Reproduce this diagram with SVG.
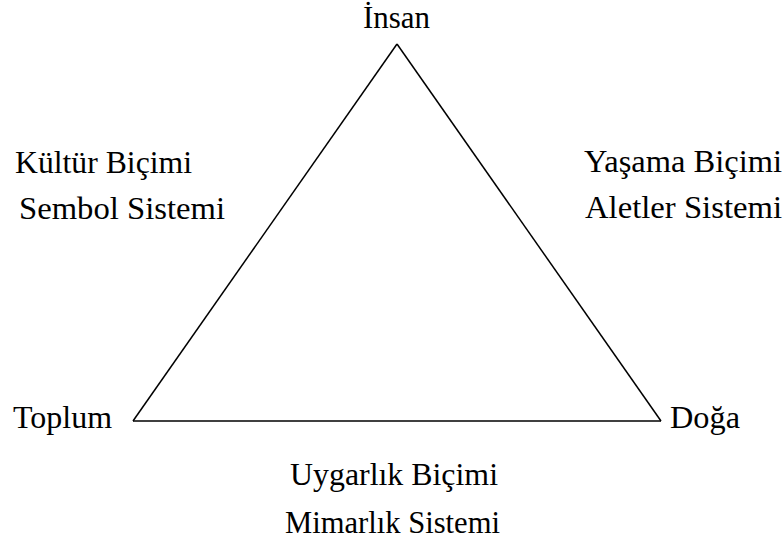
<svg xmlns="http://www.w3.org/2000/svg" width="784" height="554" viewBox="0 0 784 554">
<rect width="784" height="554" fill="#fff"/>
<g id="connectors">
<line x1="397" y1="44" x2="133" y2="421" stroke="#000" stroke-width="1.5"/>
<line x1="397" y1="44" x2="661" y2="421" stroke="#000" stroke-width="1.5"/>
<line x1="133" y1="421" x2="661" y2="421" stroke="#000" stroke-width="1.5"/>
</g>
<g id="insan"><text x="363" y="28" textLength="67" lengthAdjust="spacingAndGlyphs" font-family="Liberation Serif" font-size="31" fill="#000">İnsan</text></g>
<g id="toplum"><text x="13" y="428" textLength="99" lengthAdjust="spacingAndGlyphs" font-family="Liberation Serif" font-size="31" fill="#000">Toplum</text></g>
<g id="doga"><text x="670" y="428" textLength="70" lengthAdjust="spacingAndGlyphs" font-family="Liberation Serif" font-size="31" fill="#000">Doğa</text></g>
<g id="kultur"><text x="15" y="173" textLength="177" lengthAdjust="spacingAndGlyphs" font-family="Liberation Serif" font-size="31" fill="#000">Kültür Biçimi</text><text x="19" y="219" textLength="206" lengthAdjust="spacingAndGlyphs" font-family="Liberation Serif" font-size="31" fill="#000">Sembol Sistemi</text></g>
<g id="yasama"><text x="584" y="172" textLength="198" lengthAdjust="spacingAndGlyphs" font-family="Liberation Serif" font-size="31" fill="#000">Yaşama Biçimi</text><text x="585" y="218" textLength="197" lengthAdjust="spacingAndGlyphs" font-family="Liberation Serif" font-size="31" fill="#000">Aletler Sistemi</text></g>
<g id="uygarlik"><text x="290" y="485" textLength="208" lengthAdjust="spacingAndGlyphs" font-family="Liberation Serif" font-size="31" fill="#000">Uygarlık Biçimi</text><text x="285" y="533" textLength="215" lengthAdjust="spacingAndGlyphs" font-family="Liberation Serif" font-size="31" fill="#000">Mimarlık Sistemi</text></g>
</svg>
